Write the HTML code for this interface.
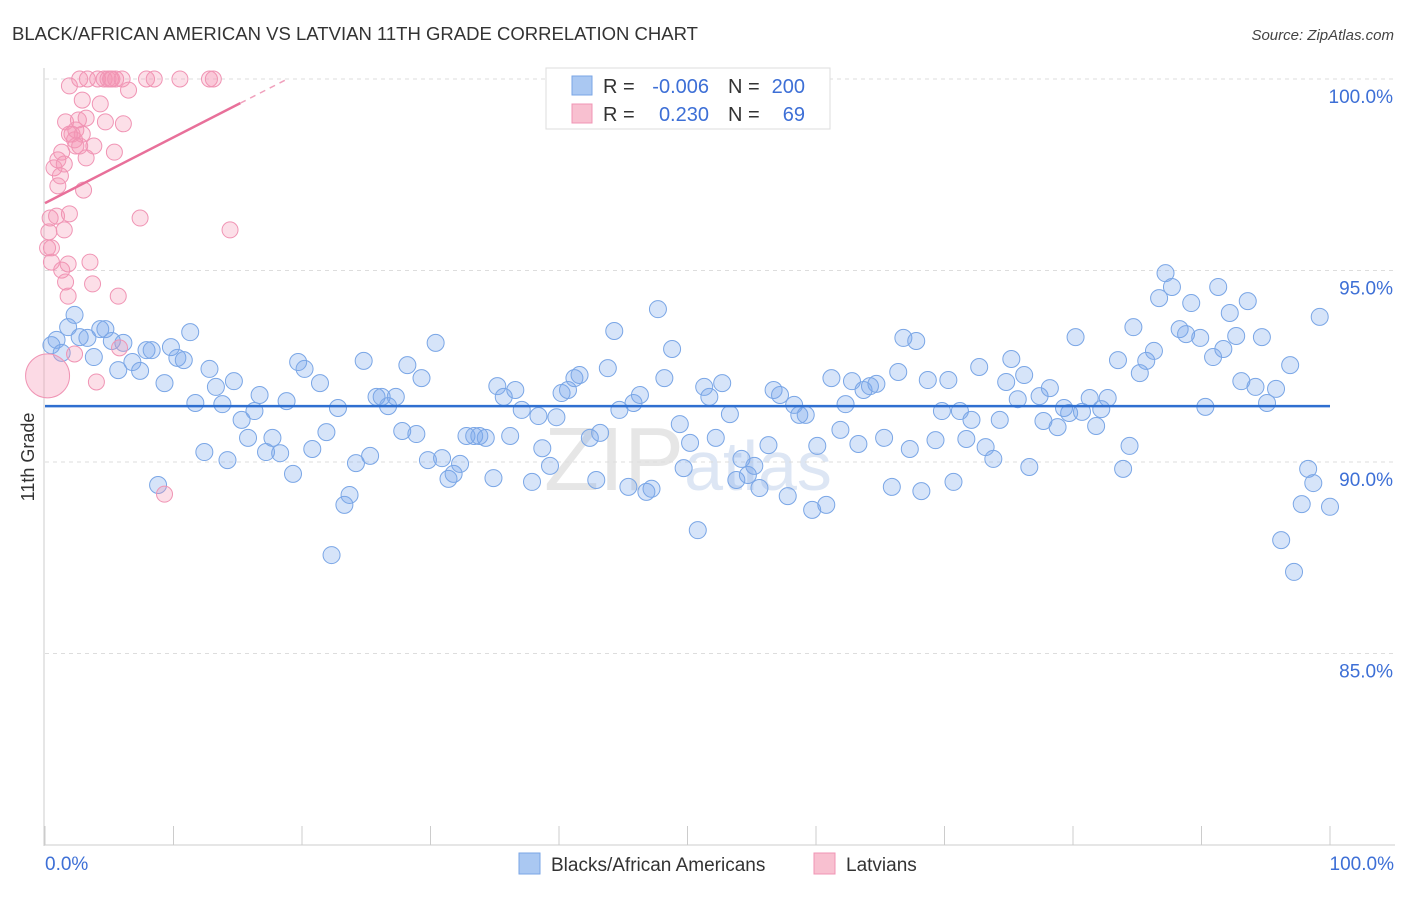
<!DOCTYPE html>
<html><head><meta charset="utf-8"><style>
body{margin:0;background:#fff;font-family:"Liberation Sans",sans-serif}
svg text{font-family:"Liberation Sans",sans-serif}
</style></head><body>
<svg id="chart" width="1406" height="892" xmlns="http://www.w3.org/2000/svg">
<text x="12" y="40" font-size="18" fill="#333" textLength="686" lengthAdjust="spacingAndGlyphs">BLACK/AFRICAN AMERICAN VS LATVIAN 11TH GRADE CORRELATION CHART</text>
<text x="1394" y="40" font-size="15" fill="#444" text-anchor="end" font-style="italic">Source: ZipAtlas.com</text>
<text x="688" y="490" font-size="90" fill="#e6e6e6" text-anchor="middle" font-family="Liberation Serif">ZIP<tspan fill="#dde6f4" font-family="Liberation Sans" font-size="70">atlas</tspan></text>
<g id="grid"></g>
<g id="axes"></g>
<g id="blue"></g>
<g id="pink"></g>
<g id="trend"></g>
<text transform="translate(34,457) rotate(-90)" font-size="18" fill="#333" text-anchor="middle">11th Grade</text>
<g>
<rect x="546" y="68" width="284" height="61" fill="#fff" stroke="#ddd"/>
<rect x="572" y="76" width="20" height="19" fill="#aac8f2" stroke="#7aa6e6"/>
<rect x="572" y="104" width="20" height="19" fill="#f8c0d0" stroke="#f094b4"/>
<text x="603" y="93" font-size="20" fill="#333">R =</text>
<text x="709" y="93" font-size="20" fill="#3d6fd6" text-anchor="end">-0.006</text>
<text x="728" y="93" font-size="20" fill="#333">N =</text>
<text x="805" y="93" font-size="20" fill="#3d6fd6" text-anchor="end">200</text>
<text x="603" y="121" font-size="20" fill="#333">R =</text>
<text x="709" y="121" font-size="20" fill="#3d6fd6" text-anchor="end">0.230</text>
<text x="728" y="121" font-size="20" fill="#333">N =</text>
<text x="805" y="121" font-size="20" fill="#3d6fd6" text-anchor="end">69</text>
</g>
<g>
<rect x="519" y="853" width="21" height="21" fill="#aac8f2" stroke="#7aa6e6"/>
<text x="551" y="871" font-size="19" fill="#333">Blacks/African Americans</text>
<rect x="814" y="853" width="21" height="21" fill="#f8c0d0" stroke="#f094b4"/>
<text x="846" y="871" font-size="19" fill="#333">Latvians</text>
</g>
</svg>
<script>
const yTicks=[100,95,90,85];
const yTickLabels=["100.0%","95.0%","90.0%","85.0%"];
const xTickLabels=["0.0%","100.0%"];
const blueX=[0.5,0.9,1.3,1.8,2.3,2.7,3.3,3.8,4.3,4.7,5.2,5.7,6.1,6.8,7.4,7.9,8.3,8.8,9.3,9.8,10.3,10.8,11.3,11.7,12.4,12.8,13.3,13.8,14.2,14.7,15.3,15.8,16.3,16.7,17.2,17.7,18.3,18.8,19.3,19.7,20.2,20.8,21.4,21.9,22.3,22.8,23.3,23.7,24.2,24.8,25.3,25.8,26.2,26.7,27.3,27.8,28.2,28.9,29.3,29.8,30.4,30.9,31.4,31.8,32.3,32.8,33.4,33.8,34.3,34.9,35.2,35.7,36.2,36.6,37.1,37.9,38.4,38.7,39.3,39.8,40.2,40.7,41.2,41.6,42.4,42.9,43.2,43.8,44.3,44.7,45.4,45.8,46.3,46.8,47.2,47.7,48.2,48.8,49.4,49.7,50.2,50.8,51.3,51.7,52.2,52.7,53.3,53.8,54.2,54.7,55.2,55.6,56.3,56.7,57.2,57.8,58.3,58.7,59.2,59.7,60.1,60.8,61.2,61.9,62.3,62.8,63.3,63.7,64.2,64.7,65.3,65.9,66.4,66.8,67.3,67.8,68.2,68.7,69.3,69.8,70.3,70.7,71.2,71.7,72.1,72.7,73.2,73.8,74.3,74.8,75.2,75.7,76.2,76.6,77.4,77.7,78.2,78.8,79.3,79.7,80.2,80.7,81.3,81.8,82.2,82.7,83.5,83.9,84.4,84.7,85.2,85.7,86.3,86.7,87.2,87.7,88.3,88.8,89.2,89.9,90.3,90.9,91.3,91.7,92.2,92.7,93.1,93.6,94.2,94.7,95.1,95.8,96.2,96.9,97.2,97.8,98.3,98.7,99.2,100];
const blueY=[93.05,93.19,92.85,93.52,93.84,93.26,93.24,92.74,93.47,93.47,93.16,92.40,93.11,92.61,92.38,92.92,92.92,89.40,92.06,93.00,92.72,92.66,93.39,91.54,90.26,92.43,91.96,91.51,90.05,92.11,91.10,90.63,91.33,91.75,90.26,90.63,90.23,91.59,89.69,92.61,92.43,90.34,92.06,90.78,87.57,91.41,88.88,89.14,89.97,92.64,90.16,91.70,91.70,91.46,91.70,90.81,92.53,90.73,92.19,90.05,93.11,90.10,89.56,89.69,89.95,90.68,90.68,90.68,90.63,89.58,91.98,91.70,90.68,91.88,91.36,89.48,91.20,90.36,89.90,91.17,91.80,91.88,92.19,92.27,90.63,89.53,90.76,92.45,93.42,91.36,89.35,91.54,91.75,89.22,89.30,93.99,92.19,92.95,90.99,89.84,90.50,88.22,91.96,91.70,90.63,92.06,91.25,89.53,90.08,89.66,89.90,89.32,90.44,91.88,91.75,89.11,91.49,91.23,91.23,88.75,90.42,88.88,92.19,90.84,91.51,92.11,90.47,91.88,91.98,92.04,90.63,89.35,92.35,93.24,90.34,93.16,89.24,92.14,90.57,91.33,92.14,89.48,91.33,90.60,91.10,92.48,90.39,90.08,91.10,92.09,92.69,91.64,92.27,89.87,91.72,91.07,91.93,90.91,91.41,91.28,93.26,91.31,91.67,90.94,91.38,91.67,92.66,89.82,90.42,93.52,92.32,92.64,92.90,94.28,94.93,94.57,93.47,93.34,94.15,93.24,91.44,92.74,94.57,92.95,93.89,93.29,92.11,94.20,91.96,93.26,91.54,91.91,87.96,92.53,87.13,88.90,89.82,89.45,93.79,88.83];
const pinkX=[0.2,0.3,0.4,0.5,0.7,0.9,1.0,1.0,1.2,1.3,1.5,1.6,1.6,1.8,1.8,1.9,1.9,2.1,2.3,2.3,2.4,2.6,2.7,2.9,3.0,3.2,3.2,3.3,3.5,3.7,3.8,4.0,4.1,4.3,4.6,4.7,4.9,5.1,5.2,5.4,5.5,5.7,5.8,6.0,6.1,6.5,7.4,7.9,8.5,9.3,10.5,12.8,13.1,14.4,2.7,2.9,1.9,1.5,0.5,1.3,2.4];
const pinkY=[95.59,96.01,96.37,95.22,97.68,96.42,97.21,97.89,97.47,95.01,97.78,98.88,94.70,94.33,95.17,99.82,96.48,98.56,92.82,98.41,98.67,98.93,100,99.45,97.10,97.94,98.98,100,95.22,94.65,98.25,92.09,100,99.35,100,98.88,100,100,100,98.09,100,94.33,92.98,100,98.83,99.71,96.37,100,100,89.16,100,100,100,96.06,98.25,98.56,98.56,96.06,95.59,98.09,98.25];
const bigPinkX=[0.2], bigPinkY=[92.25];
const blueTrend=[91.46,91.46];
const pinkTrend=[96.76,99.37];
const NS="http://www.w3.org/2000/svg";
const X0=45,X1=1330,YT=79,PX=38.3;
function sx(v){return X0+(X1-X0)*v/100;}
function sy(v){return YT+(100-v)*PX;}
function mk(tag,attrs,parent){const e=document.createElementNS(NS,tag);for(const k in attrs)e.setAttribute(k,attrs[k]);document.getElementById(parent).appendChild(e);return e;}
yTicks.forEach((t,i)=>{
 const l=mk('line',{x1:45,x2:1395,y1:sy(t),y2:sy(t),stroke:'#ddd','stroke-dasharray':'4,4'},'grid');
 
 
 const tx=mk('text',{x:1393,y:sy(t)+24,'font-size':19,fill:'#3d6fd6','text-anchor':'end'},'axes');
 tx.textContent=yTickLabels[i];
 
 
});
mk('line',{x1:44,x2:44,y1:68,y2:846,stroke:'#ccc'},'axes');
mk('line',{x1:44,x2:1395,y1:845,y2:845,stroke:'#ccc'},'axes');
for(let i=0;i<=10;i++){const t=mk('line',{x1:sx(i*10),x2:sx(i*10),y1:826,y2:845,stroke:'#ccc'},'axes');
 
 }
[[0,'start',45],[100,'end',1394]].forEach((a,i)=>{const t=mk('text',{x:a[2],y:870,'font-size':19,fill:'#3d6fd6','text-anchor':a[1]},'axes');t.textContent=xTickLabels[i];
 
 });
blueX.forEach((v,i)=>{const c=mk('circle',{cx:sx(v),cy:sy(blueY[i]),r:8.5,fill:'rgba(120,165,235,0.3)',stroke:'#7aa6e6','stroke-width':1},'blue');
 
 });
pinkX.forEach((v,i)=>{const c=mk('circle',{cx:sx(v),cy:sy(pinkY[i]),r:8,fill:'rgba(245,150,180,0.3)',stroke:'#f094b4','stroke-width':1},'pink');
 
 });
bigPinkX.forEach((v,i)=>{const c=mk('circle',{cx:sx(v),cy:sy(bigPinkY[i]),r:22,fill:'rgba(245,150,180,0.35)',stroke:'#f094b4'},'pink');
 
 });
const bl=mk('line',{x1:sx(0),x2:sx(100),y1:sy(blueTrend[0]),y2:sy(blueTrend[1]),stroke:'#2f6fd0','stroke-width':2.5},'trend');


const slope=(pinkTrend[1]-pinkTrend[0])/15.2;
const pl=mk('line',{x1:sx(0),x2:sx(15.2),y1:sy(pinkTrend[0]),y2:sy(pinkTrend[1]),stroke:'#e8709a','stroke-width':2.5},'trend');


const xEnd=15.2+(100-pinkTrend[1])/slope;
const pd=mk('line',{x1:sx(15.2),x2:sx(xEnd),y1:sy(pinkTrend[1]),y2:sy(100),stroke:'#f0a0bc','stroke-width':1.5,'stroke-dasharray':'6,5'},'trend');


</script>
</body></html>
